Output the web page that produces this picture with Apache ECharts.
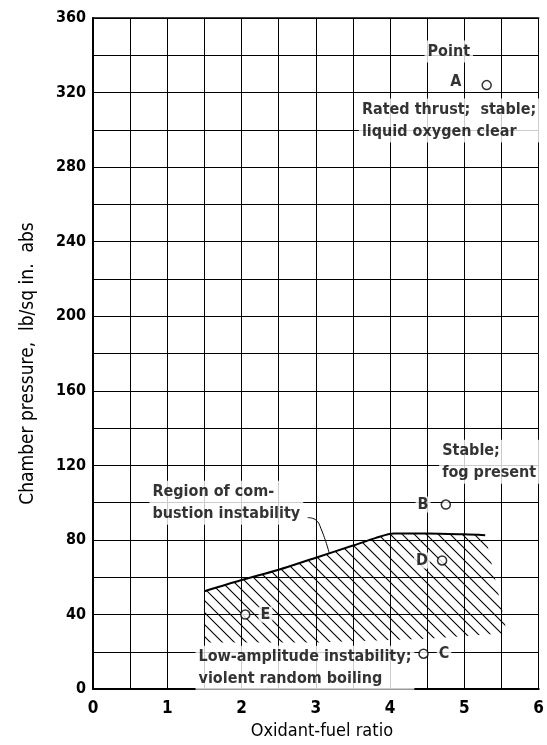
<!DOCTYPE html>
<html>
<head>
<meta charset="utf-8">
<script src="https://cdn.jsdelivr.net/npm/echarts@6/dist/echarts.min.js"></script>
<style>
  html, body { margin: 0; padding: 0; background: #fff; }
  #chart { width: 547px; height: 745px; }
</style>
</head>
<body>
<div id="chart"></div>
<script>
// upper edge of the instability region
var boundary = [[1.5, 52.5], [2, 58.5], [2.5, 64], [3, 70.5], [3.5, 77], [3.8, 81], [4.05, 83.5], [4.5, 83.5], [5, 83], [5.28, 82.5]];
// lower / right edge of the hatched area
var hatchEdge = [[5.55, 35], [5.55, 30], [4.5, 27], [3, 25], [2, 25], [1.5, 25]];
// test points
var points = [
  ['A', 5.3, 324],
  ['B', 4.75, 99],
  ['C', 4.45, 19],
  ['D', 4.7, 69],
  ['E', 2.05, 40]
];
// leader from the region note to the curve
var leader = [[2.89, 92], [2.99, 91], [3.07, 86], [3.18, 73]];
// notes: x, y, text
var notes = [
  [4.79, 342, 'Point', 'center'],
  [3.58, 305, 'Rated thrust;  stable;\nliquid oxygen clear', 'left'],
  [4.66, 122, 'Stable;\nfog present', 'left'],
  [0.76, 100, 'Region of com-\nbustion instability', 'left'],
  [1.38, 11.5, 'Low-amplitude instability;\nviolent random boiling', 'left']
];
var xTicks = [0, 1, 2, 3, 4, 5, 6];
var yTicks = [0, 40, 80, 120, 160, 200, 240, 280, 320, 360];

var FONT = "'DejaVu Sans Condensed', 'Liberation Sans Narrow', sans-serif";

// diagonal hatch pattern
var pc = document.createElement('canvas');
pc.width = 12; pc.height = 12;
var pctx = pc.getContext('2d');
pctx.strokeStyle = '#000';
pctx.lineWidth = 1.1;
pctx.beginPath();
pctx.moveTo(-1, -1); pctx.lineTo(13, 13);
pctx.moveTo(-1, 11); pctx.lineTo(1, 13);
pctx.moveTo(11, -1); pctx.lineTo(13, 1);
pctx.stroke();

var pointLabel = {
  A: { position: 'left', distance: 18, offset: [0, -3] },
  B: { position: 'left', distance: 10 },
  C: { position: 'right', distance: 8 },
  D: { position: 'left', distance: 7 },
  E: { position: 'right', distance: 8 }
};

var myChart = echarts.init(document.getElementById('chart'));
var option = {
  animation: false,
  grid: { left: 93, right: 3, top: 18, bottom: 51 },
  xAxis: [{
    type: 'value', min: 0, max: 6, interval: 0.5,
    name: 'Oxidant-fuel ratio', nameLocation: 'middle', nameGap: 29,
    nameTextStyle: { fontFamily: FONT, fontSize: 18, color: '#000', padding: [0, 0, 0, 12] },
    axisLine: { lineStyle: { color: '#000', width: 2 } },
    axisTick: { show: false },
    splitLine: { lineStyle: { color: '#000', width: 1 } },
    axisLabel: {
      margin: 11, color: '#000', fontFamily: FONT, fontSize: 17, fontWeight: 'bold',
      formatter: function (v) { return xTicks.indexOf(v) >= 0 ? String(v) : ''; }
    }
  }, {
    type: 'value', min: 0, max: 6, position: 'top',
    axisLine: { lineStyle: { color: '#000', width: 1.5 } },
    axisTick: { show: false }, axisLabel: { show: false }, splitLine: { show: false }
  }],
  yAxis: {
    type: 'value', min: 0, max: 360, interval: 20,
    name: 'Chamber pressure,  lb/sq in.  abs', nameLocation: 'middle', nameGap: 55,
    nameTextStyle: { fontFamily: FONT, fontSize: 19, color: '#000', padding: [0, 20, 0, 0] },
    axisLine: { show: true, lineStyle: { color: '#000', width: 2 } },
    axisTick: { show: false },
    splitLine: { lineStyle: { color: '#000', width: 1 } },
    axisLabel: {
      margin: 7, color: '#000', fontFamily: FONT, fontSize: 16, fontWeight: 'bold',
      formatter: function (v) { return yTicks.indexOf(v) >= 0 ? String(v) : ''; }
    }
  },
  series: [
    {
      type: 'custom',
      data: [0],
      silent: true,
      renderItem: function (params, api) {
        var pts = boundary.concat(hatchEdge).map(function (p) { return api.coord(p); });
        return {
          type: 'polygon',
          shape: { points: pts },
          style: { fill: { image: pc, repeat: 'repeat' }, stroke: null }
        };
      },
      z: 2
    },
    {
      type: 'line',
      data: boundary,
      smooth: 0.3,
      symbol: 'none',
      lineStyle: { color: '#000', width: 2 },
      z: 3
    },
    {
      type: 'line',
      data: leader,
      smooth: 0.5,
      symbol: 'none',
      lineStyle: { color: '#000', width: 1 },
      z: 3
    },
    {
      type: 'scatter',
      data: notes.map(function (n) {
        return {
          value: [n[0], n[1]],
          label: { align: n[3] }
        };
      }),
      symbolSize: 0,
      z: 5,
      label: {
        show: true, position: 'inside', verticalAlign: 'middle',
        color: '#000', fontFamily: FONT, fontSize: 16, fontWeight: 'bold', lineHeight: 22,
        backgroundColor: '#fff', padding: [0, 3],
        formatter: function (p) { return notes[p.dataIndex][2]; }
      }
    },
    {
      type: 'scatter',
      data: points.map(function (p) {
        var l = pointLabel[p[0]];
        return {
          name: p[0], value: [p[1], p[2]],
          label: { position: l.position, distance: l.distance, offset: l.offset || [0, 0] }
        };
      }),
      symbol: 'circle',
      symbolSize: 9,
      itemStyle: { color: '#fff', borderColor: '#000', borderWidth: 1.5 },
      z: 6,
      label: {
        show: true, formatter: '{b}',
        color: '#000', fontFamily: FONT, fontSize: 16, fontWeight: 'bold',
        backgroundColor: '#fff', padding: [0, 2]
      }
    }
  ]
};
myChart.setOption(option);
window.addEventListener('resize', function () { myChart.resize(); });
</script>
</body>
</html>
